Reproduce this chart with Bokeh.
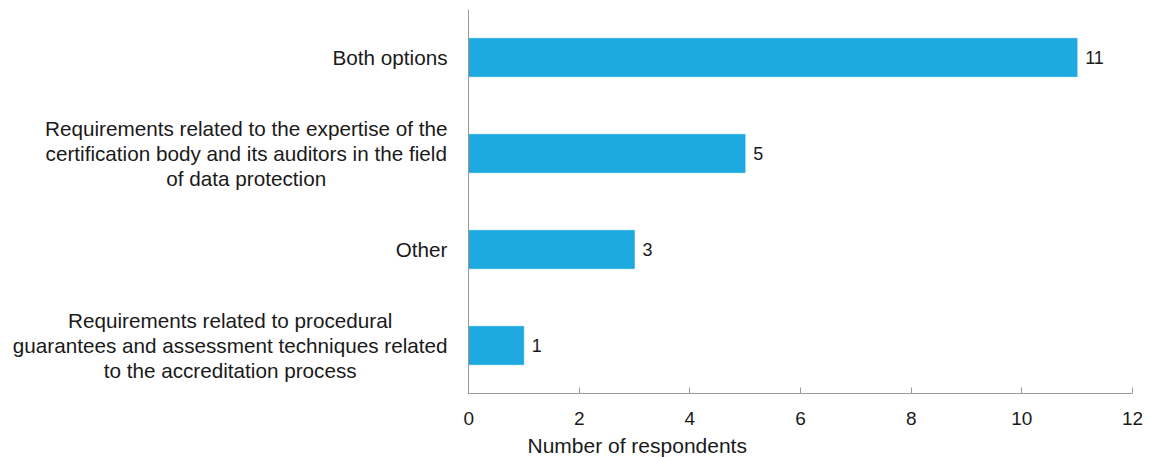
from bokeh.plotting import figure
from bokeh.layouts import row
from bokeh.models import ColumnDataSource, FactorRange, Range1d, FixedTicker, Title, Label
from bokeh.core.properties import value
from bokeh.embed import file_html
from bokeh.resources import INLINE

categories = [
    "Both options",
    "Requirements related to the expertise of the\ncertification body and its auditors in the field\nof data protection",
    "Other",
    "Requirements related to procedural\nguarantees and assessment techniques related\nto the accreditation process",
]
counts = [11, 5, 3, 1]
x_ticks = [0, 2, 4, 6, 8, 10, 12]
x_title = "Number of respondents"

FONT = "Liberation Sans"
TXT = "#1a1a1a"
BAR = "#1fa9e1"
AXIS = "#9a9a9a"

factors = list(reversed(categories))
yr = FactorRange(factors=factors, range_padding=0)
src = ColumnDataSource(dict(cat=categories, n=counts, lab=[str(v) for v in counts]))

# ---- main chart ----
p = figure(
    width=687, height=457,
    y_range=yr, x_range=Range1d(0, 12),
    output_backend="svg", toolbar_location=None,
    min_border_left=5, min_border_right=18, min_border_top=9, min_border_bottom=30,
)
p.frame_width = 664
p.frame_height = 384

p.hbar(y="cat", right="n", left=0, height=0.4, source=src,
       fill_color=BAR, line_color=BAR, line_width=0.5)
p.text(x="n", y="cat", text="lab", source=src, x_offset=8,
       text_align="left", text_baseline="middle",
       text_font=value(FONT), text_font_size="18px", text_color=TXT)

p.grid.visible = False
p.outline_line_color = None

xa = p.xaxis[0]
xa.ticker = FixedTicker(ticks=x_ticks)
xa.axis_line_color = AXIS
xa.major_tick_line_color = AXIS
xa.major_tick_in = 6
xa.major_tick_out = 0
xa.minor_tick_line_color = None
xa.major_label_standoff = 18
xa.major_label_text_font = FONT
xa.major_label_text_font_size = "19px"
xa.major_label_text_color = TXT

ya = p.yaxis[0]
ya.axis_line_color = AXIS
ya.major_tick_line_color = None
ya.minor_tick_line_color = None
ya.major_tick_in = 0
ya.major_tick_out = 0
ya.major_label_standoff = 0
ya.major_label_overrides = {c: "" for c in categories}
ya.major_label_text_color = None

t = Title(text=x_title, align="left", offset=59, text_font=FONT,
          text_font_size="21px", text_font_style="normal", text_color=TXT,
          standoff=9)
p.add_layout(t, "below")

# ---- category label column (lines centred, block right-aligned) ----
lp = figure(
    width=463, height=457, y_range=yr, x_range=Range1d(0, 1),
    x_axis_type=None, y_axis_type=None,
    output_backend="svg", toolbar_location=None,
    min_border_left=0, min_border_right=0, min_border_top=9, min_border_bottom=64,
)
lp.frame_width = 463
lp.frame_height = 384
lp.grid.visible = False
lp.outline_line_color = None
for c in categories:
    yc = factors.index(c) + 0.5  # synthetic centre of the factor band
    lp.add_layout(Label(x=1, y=yc, text=c, x_offset=-16, anchor="center_right",
                        text_align="center", text_baseline="middle",
                        text_font=FONT, text_font_size="20.7px", text_color=TXT,
                        text_line_height=1.1))

layout = row(lp, p)
open("out.html", "w").write(file_html(layout, INLINE))
